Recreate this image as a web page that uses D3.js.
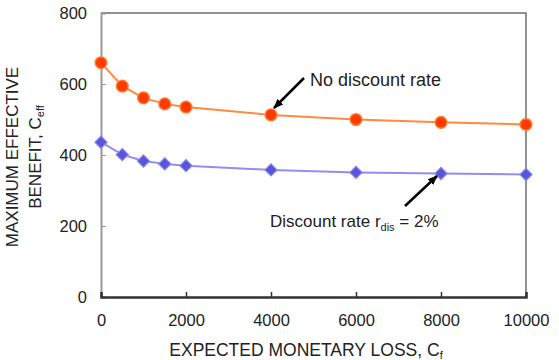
<!DOCTYPE html>
<html><head><meta charset="utf-8">
<script src="https://cdn.jsdelivr.net/npm/d3@7/dist/d3.min.js"></script>
<style>body{margin:0;background:#fff}svg{display:block}text{font-family:"Liberation Sans",Arial,sans-serif;fill:#222}</style>
</head><body><svg id="c" width="559" height="360"></svg>
<script>
const losses = [0, 500, 1000, 1500, 2000, 4000, 6000, 8000, 10000];
const noDiscount = [660, 594, 561, 544, 535, 513, 500, 492, 486];
const discount2 = [436, 401, 383, 375, 370, 358, 351, 348, 345];
const xTicks = [0, 2000, 4000, 6000, 8000, 10000];
const yTicks = [0, 200, 400, 600, 800];

const svg = d3.select("#c");
const m = {l:101, r:526, t:13, b:297};
const x = d3.scaleLinear().domain([0,10000]).range([m.l, m.r]);
const y = d3.scaleLinear().domain([0,800]).range([m.b, m.t]);

// frame top/right
svg.append("path").attr("d",`M${m.l},${m.t}H${m.r}V${m.b}`).attr("fill","none").attr("stroke","#6e6e6e").attr("stroke-width",1.5);

// y axis
const ya = svg.append("g").attr("transform",`translate(${m.l},0)`)
  .call(d3.axisRight(y).tickValues(yTicks).tickSize(5).tickFormat(d3.format("d")));
ya.select(".domain").attr("stroke","#999").attr("stroke-width",2);
ya.selectAll(".tick line").attr("stroke","#999");
ya.selectAll(".tick text").attr("x",-14).attr("text-anchor","end").attr("font-size",16.5).attr("fill","#222");

// x axis
const xa = svg.append("g").attr("transform",`translate(0,${m.b})`)
  .call(d3.axisTop(x).tickValues(xTicks).tickSize(5).tickFormat(d3.format("d")));
xa.select(".domain").attr("stroke","#333").attr("stroke-width",2.5);
xa.selectAll(".tick line").attr("stroke","#333").attr("stroke-width",1.5);
xa.selectAll(".tick text").attr("y",29).attr("dy",0).attr("font-size",16.5).attr("fill","#222");

// axis titles
const xt = svg.append("text").attr("x",306).attr("y",356).attr("text-anchor","middle").attr("font-size",17.5);
xt.append("tspan").text("EXPECTED MONETARY LOSS, C");
xt.append("tspan").attr("font-size",11).attr("dy",3).text("f");

const yt = svg.append("g").attr("transform","translate(0,157) rotate(-90)");
yt.append("text").attr("x",0).attr("y",17.5).attr("text-anchor","middle").attr("font-size",17).text("MAXIMUM EFFECTIVE");
const yt2 = yt.append("text").attr("x",0).attr("y",41).attr("text-anchor","middle").attr("font-size",17);
yt2.append("tspan").text("BENEFIT, C");
yt2.append("tspan").attr("font-size",11).attr("dy",3).text("eff");

// lines
const line = d3.line().x((d,i)=>x(losses[i])).y(d=>y(d));
svg.append("path").datum(noDiscount).attr("d",line).attr("fill","none").attr("stroke","#ff8a3d").attr("stroke-width",2);
svg.append("path").datum(discount2).attr("d",line).attr("fill","none").attr("stroke","#8f8fef").attr("stroke-width",2);

svg.append("g").selectAll("circle").data(noDiscount).join("circle")
  .attr("cx",(d,i)=>x(losses[i])).attr("cy",d=>y(d)).attr("r",5.8)
  .attr("fill","#ff3a00").attr("stroke","#ff7a30").attr("stroke-width",1.5);

const sym = d3.symbol().type(d3.symbolDiamond2).size(95);
svg.append("g").selectAll("path").data(discount2).join("path")
  .attr("transform",(d,i)=>`translate(${x(losses[i])},${y(d)})`).attr("d",sym)
  .attr("fill","#5a55d6").attr("stroke","#8a85f0").attr("stroke-width",1.2);

// annotations
const defs = svg.append("defs");
defs.append("marker").attr("id","ah").attr("viewBox","0 0 10 10").attr("refX",9).attr("refY",5)
  .attr("markerWidth",4).attr("markerHeight",4).attr("orient","auto")
  .append("path").attr("d","M0,1L10,5L0,9Z").attr("fill","#000");
svg.append("line").attr("x1",304).attr("y1",78).attr("x2",274).attr("y2",108)
  .attr("stroke","#000").attr("stroke-width",2.5).attr("marker-end","url(#ah)");
svg.append("line").attr("x1",405).attr("y1",206).attr("x2",437).attr("y2",176)
  .attr("stroke","#000").attr("stroke-width",2.5).attr("marker-end","url(#ah)");

svg.append("text").attr("x",310).attr("y",86).attr("font-size",18).text("No discount rate");
const t2 = svg.append("text").attr("x",270).attr("y",227).attr("font-size",17);
t2.append("tspan").text("Discount rate r");
t2.append("tspan").attr("font-size",11).attr("dy",4).text("dis");
t2.append("tspan").attr("dy",-4).text(" = 2%");
</script></body></html>
